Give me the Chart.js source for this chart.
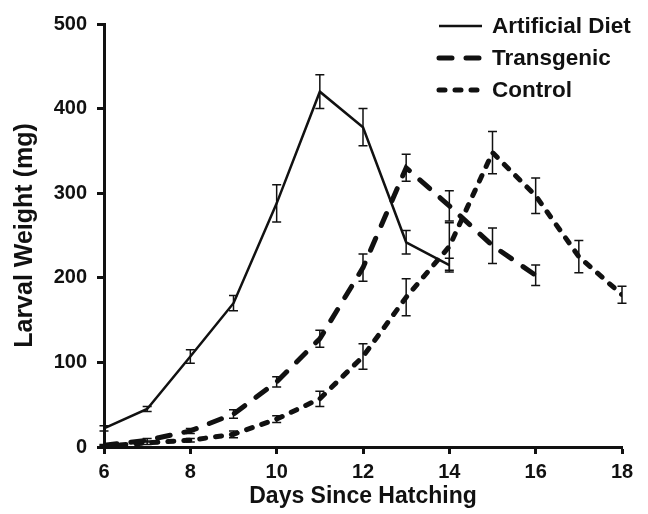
<!DOCTYPE html>
<html>
<head>
<meta charset="utf-8">
<script src="https://cdn.jsdelivr.net/npm/chart.js@4.4.1/dist/chart.umd.min.js"></script>
<style>
  html, body { margin: 0; padding: 0; background: #fff; }
  #wrap { width: 648px; height: 514px; }
</style>
</head>
<body>
<div id="wrap"><canvas id="growthChart" width="648" height="514"></canvas></div>
<script>
// Data
const days = [6, 7, 8, 9, 10, 11, 12, 13, 14, 15, 16, 17, 18];
const seriesNames = ['Artificial Diet', 'Transgenic', 'Control'];

const artificialDiet    = [22, 45, 107, 170, 288, 420, 378, 242, 215];
const artificialDietErr = [3, 3, 8, 9, 22, 20, 22, 14, 8];

const transgenic    = [2, 8, 19, 39, 77, 128, 212, 330, 285, 238, 203];
const transgenicErr = [1, 2, 3, 5, 6, 10, 16, 16, 18, 21, 12];

const control    = [1, 5, 8, 15, 33, 57, 107, 177, 237, 348, 297, 225, 180];
const controlErr = [1, 2, 2, 4, 4, 9, 15, 22, 28, 25, 21, 19, 10];

const yTicks = [0, 100, 200, 300, 400, 500];

Chart.defaults.font.family = '"Liberation Sans", Arial, sans-serif';
Chart.defaults.font.weight = 'bold';
Chart.defaults.color = '#111';

function toPoints(values) {
    return values.map((v, i) => ({ x: days[i], y: v }));
}

// Error bars drawn through the chart's own scales
const errorBars = {
    id: 'errorBars',
    afterDatasetsDraw(chart) {
        const ctx = chart.ctx;
        const yScale = chart.scales.y;
        ctx.save();
        ctx.strokeStyle = '#111';
        ctx.lineWidth = 1.5;
        ctx.setLineDash([]);
        chart.data.datasets.forEach((ds, i) => {
            const meta = chart.getDatasetMeta(i);
            ds.errors.forEach((e, j) => {
                const pt = meta.data[j];
                if (!pt) return;
                const v = ds.data[j].y;
                const top = yScale.getPixelForValue(v + e);
                const bottom = yScale.getPixelForValue(v - e);
                const x = pt.x;
                ctx.beginPath();
                ctx.moveTo(x, top);
                ctx.lineTo(x, bottom);
                ctx.moveTo(x - 4.5, top);
                ctx.lineTo(x + 4.5, top);
                ctx.moveTo(x - 4.5, bottom);
                ctx.lineTo(x + 4.5, bottom);
                ctx.stroke();
            });
        });
        ctx.restore();
    }
};

// Legend with line samples, stacked in the top right corner
const lineLegend = {
    id: 'lineLegend',
    afterDraw(chart) {
        const ctx = chart.ctx;
        ctx.save();
        chart.data.datasets.forEach((ds, i) => {
            const y = 26 + i * 32;
            ctx.strokeStyle = '#111';
            ctx.lineWidth = ds.borderWidth;
            ctx.lineCap = ds.borderCapStyle;
            ctx.setLineDash(ds.borderDash);
            ctx.beginPath();
            ctx.moveTo(439, y);
            ctx.lineTo(482, y);
            ctx.stroke();
            ctx.setLineDash([]);
            ctx.fillStyle = '#111';
            ctx.font = 'bold 22.5px "Liberation Sans", Arial, sans-serif';
            ctx.textBaseline = 'middle';
            ctx.fillText(ds.label, 492, y + 1);
        });
        ctx.restore();
    }
};

new Chart(document.getElementById('growthChart'), {
    type: 'line',
    data: {
        datasets: [{
            label: seriesNames[0],
            data: toPoints(artificialDiet),
            errors: artificialDietErr,
            borderColor: '#111',
            borderWidth: 2.5,
            borderDash: [],
            borderCapStyle: 'butt',
            pointRadius: 0,
            tension: 0,
        }, {
            label: seriesNames[1],
            data: toPoints(transgenic),
            errors: transgenicErr,
            borderColor: '#111',
            borderWidth: 5,
            borderDash: [13, 14],
            borderCapStyle: 'round',
            pointRadius: 0,
            tension: 0,
        }, {
            label: seriesNames[2],
            data: toPoints(control),
            errors: controlErr,
            borderColor: '#111',
            borderWidth: 5,
            borderDash: [6, 10],
            borderCapStyle: 'round',
            pointRadius: 0,
            tension: 0,
        }]
    },
    options: {
        responsive: false,
        animation: false,
        layout: { padding: { top: 24, right: 26, left: 0, bottom: 0 } },
        plugins: {
            legend: { display: false },
            tooltip: { enabled: false },
        },
        scales: {
            x: {
                type: 'linear',
                min: 6,
                max: 18,
                ticks: { stepSize: 2, padding: 6, font: { size: 20 }, color: '#111' },
                grid: { drawOnChartArea: false, color: '#111', tickLength: 7, tickWidth: 3 },
                border: { color: '#111', width: 3 },
                title: { display: true, text: 'Days Since Hatching', font: { size: 23 }, padding: { top: 0, bottom: 4 }, color: '#111' },
                afterFit(scale) { scale.height = 67; },
            },
            y: {
                min: 0,
                max: 500,
                afterBuildTicks(scale) { scale.ticks = yTicks.map(v => ({ value: v })); },
                ticks: { padding: 10, font: { size: 20 }, color: '#111' },
                grid: { drawOnChartArea: false, color: '#111', tickLength: 7, tickWidth: 3 },
                border: { color: '#111', width: 3 },
                title: { display: true, text: 'Larval Weight (mg)', font: { size: 25 }, padding: { top: 10, bottom: 0 }, color: '#111' },
                afterFit(scale) { scale.width = 104; },
            }
        }
    },
    plugins: [errorBars, lineLegend]
});
</script>
</body>
</html>
